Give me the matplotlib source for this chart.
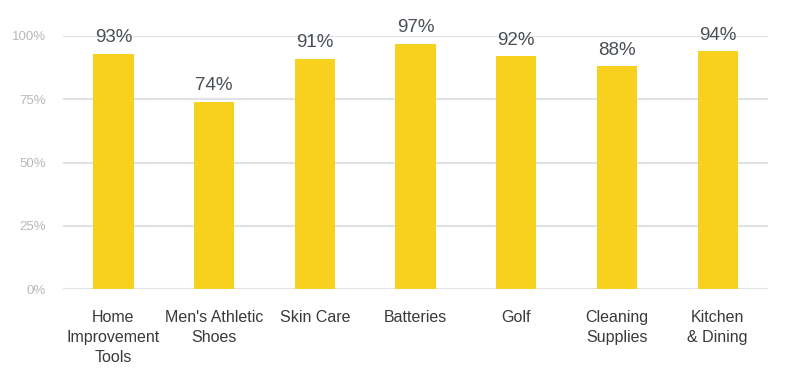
import matplotlib
matplotlib.use("Agg")
import matplotlib.pyplot as plt

categories = ["Home\nImprovement\nTools", "Men's Athletic\nShoes", "Skin Care", "Batteries",
              "Golf", "Cleaning\nSupplies", "Kitchen\n& Dining"]
values = [93, 74, 91, 97, 92, 88, 94]
yticks = [0, 25, 50, 75, 100]
ytick_labels = ["0%", "25%", "50%", "75%", "100%"]

plt.rcParams['font.family'] = ['Liberation Sans', 'DejaVu Sans']

fig = plt.figure(figsize=(7.89, 3.70), dpi=100)
ax = fig.add_axes([63/789, 1-289/370, 705/789, (289-36)/370])

x = list(range(len(categories)))
bars = ax.bar(x, values, width=0.4, color="#F7D11E", zorder=3)
for xi, v in zip(x, values):
    ax.annotate(f"{v}%", (xi, v), xytext=(0, 5.5), textcoords="offset points",
                ha="center", va="bottom", fontsize=13.5, color="#4a4f55", clip_on=False, zorder=4)

ax.set_xlim(-0.5, len(categories) - 0.5)
ax.set_ylim(0, 100)
ax.set_yticks(yticks)
ax.set_yticklabels(ytick_labels, fontsize=9.5, color="#b8b8b8")
ax.yaxis.grid(True, color="#dfe3e7", linewidth=1.5, zorder=0)
ax.set_xticks(x)
ax.set_xticklabels(categories, fontsize=11.5, color="#3a3a3a", linespacing=1.42, va="top")
ax.tick_params(axis="x", length=0, pad=15)
ax.tick_params(axis="y", length=0, pad=12.5)
for s in ax.spines.values():
    s.set_visible(False)

fig.savefig("out.png", dpi=100, facecolor="white")
